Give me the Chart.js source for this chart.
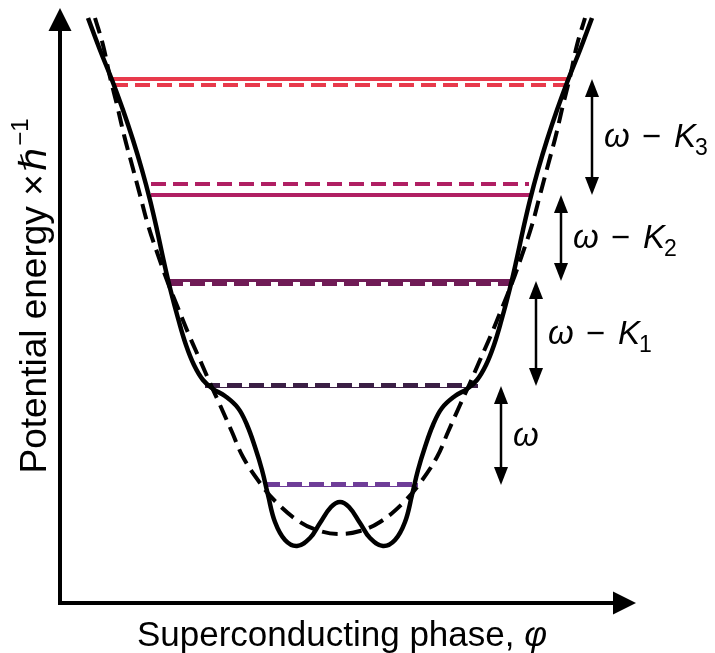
<!DOCTYPE html>
<html>
<head>
<meta charset="utf-8">
<script src="https://cdn.jsdelivr.net/npm/chart.js@4.4.1/dist/chart.umd.min.js"></script>
<style>
  html, body { margin: 0; padding: 0; background: #fff; }
  #wrap { width: 715px; height: 653px; position: relative; }
</style>
</head>
<body>
<div id="wrap"><canvas id="potentialChart"></canvas></div>
<script>
// Full potential (double well with shelves), phase vs energy
const phaseFull = [-2.52, -2.40, -2.28, -2.17, -2.07, -1.98, -1.90, -1.83, -1.765, -1.695, -1.615, -1.54, -1.46,
  -1.37, -1.27, -1.15, -1.02, -0.93, -0.85, -0.78, -0.72, -0.65, -0.55, -0.43, -0.30, -0.20, -0.09, 0,
  0.09, 0.20, 0.30, 0.43, 0.55, 0.65, 0.72, 0.78, 0.85, 0.93, 1.02, 1.15, 1.27, 1.37,
  1.46, 1.54, 1.615, 1.695, 1.765, 1.83, 1.90, 1.98, 2.07, 2.17, 2.28, 2.40, 2.52];
const energyFull = [5.85, 5.53, 5.23, 4.93, 4.63, 4.33, 4.03, 3.73, 3.43, 3.13, 2.83, 2.58, 2.38,
  2.23, 2.14, 2.07, 1.95, 1.78, 1.56, 1.33, 1.08, 0.81, 0.63, 0.57, 0.65, 0.80, 0.96, 1.01,
  0.96, 0.80, 0.65, 0.57, 0.63, 0.81, 1.08, 1.33, 1.56, 1.78, 1.95, 2.07, 2.14, 2.23,
  2.38, 2.58, 2.83, 3.13, 3.43, 3.73, 4.03, 4.33, 4.63, 4.93, 5.23, 5.53, 5.85];

// Approximate (dashed) potential
const phaseApprox = [-2.45, -2.37, -2.30, -2.23, -2.16, -2.08, -2.00, -1.92, -1.82, -1.72, -1.62, -1.51, -1.40,
  -1.30, -1.20, -1.08, -0.97, -0.80, -0.63, -0.40, -0.20, 0,
  0.20, 0.40, 0.63, 0.80, 0.97, 1.08, 1.20, 1.30, 1.40, 1.51, 1.62, 1.72, 1.82, 1.92, 2.00, 2.08, 2.16,
  2.23, 2.30, 2.37, 2.45];
const energyApprox = [5.85, 5.58, 5.26, 4.98, 4.68, 4.38, 4.08, 3.78, 3.48, 3.20, 2.95, 2.68, 2.43,
  2.20, 1.98, 1.71, 1.46, 1.20, 1.00, 0.81, 0.72, 0.69,
  0.72, 0.81, 1.00, 1.20, 1.46, 1.71, 1.98, 2.20, 2.43, 2.68, 2.95, 3.20, 3.48, 3.78, 4.08, 4.38, 4.68,
  4.98, 5.26, 5.58, 5.85];

// Energy levels: solid = full potential, dashed = approximation
const levelColors = ['#6f3d98', '#3b1f45', '#701b56', '#b01f63', '#e83a4c'];
const levelSolidE = [1.18, 2.17, 3.22, 4.08, 5.24];
const levelDashedE = [1.19, 2.18, 3.19, 4.19, 5.18];
const levelFrom = [-0.75, -1.35, -1.72, -1.89, -2.27];
const levelTo = [0.78, 1.38, 1.72, 1.92, 2.28];

// Level spacing arrows and their labels
const gapLabels = ['ω', 'ω − K1', 'ω − K2', 'ω − K3'];
const gapPhase = [1.61, 1.96, 2.21, 2.52];

const xTitle = 'Superconducting phase, ';
const yTitle = 'Potential energy ×';

const FONT = '"Liberation Sans", Arial, Helvetica, sans-serif';

function pts(xs, ys) {
  return xs.map((x, i) => ({ x: x, y: ys[i] }));
}

const datasets = [];
datasets.push({
  data: pts(phaseFull, energyFull),
  borderColor: '#000', borderWidth: 4.5,
  tension: 0.4, order: 0
});
datasets.push({
  data: pts(phaseApprox, energyApprox),
  borderColor: '#000', borderWidth: 4, borderDash: [16, 8],
  tension: 0.4, order: 1
});
levelColors.forEach((c, i) => {
  const dashedPts = [{ x: levelFrom[i], y: levelDashedE[i] }, { x: levelTo[i] - 0.03, y: levelDashedE[i] }];
  datasets.push({
    data: dashedPts, borderColor: c, borderWidth: 4, borderDash: [15, 7], order: 2
  });
  datasets.push({
    data: dashedPts, borderColor: '#fff', borderWidth: 4, order: 3
  });
  datasets.push({
    data: [{ x: levelFrom[i], y: levelSolidE[i] }, { x: levelTo[i], y: levelSolidE[i] }],
    borderColor: c, borderWidth: 4, order: 4
  });
});

function arrowHead(ctx, x, y, dir, len, half) {
  // dir: -1 pointing up, 1 pointing down, 2 pointing right
  ctx.beginPath();
  if (dir === 2) {
    ctx.moveTo(x, y);
    ctx.lineTo(x - len, y - half);
    ctx.lineTo(x - len, y + half);
  } else {
    ctx.moveTo(x, y);
    ctx.lineTo(x - half, y - dir * len);
    ctx.lineTo(x + half, y - dir * len);
  }
  ctx.closePath();
  ctx.fill();
}

const decorations = {
  id: 'decorations',
  afterDatasetsDraw(chart) {
    const ctx = chart.ctx;
    const area = chart.chartArea;
    const xs = chart.scales.x, ys = chart.scales.y;
    ctx.save();
    ctx.fillStyle = '#000';
    ctx.strokeStyle = '#000';

    // axes with arrow heads
    ctx.lineWidth = 4;
    ctx.beginPath();
    ctx.moveTo(area.left, area.top + 16);
    ctx.lineTo(area.left, area.bottom);
    ctx.lineTo(area.right - 16, area.bottom);
    ctx.stroke();
    arrowHead(ctx, area.left, area.top, -1, 23, 11.5);
    arrowHead(ctx, area.right, area.bottom, 2, 23, 11.5);

    // double arrows between consecutive solid levels
    ctx.lineWidth = 2.5;
    gapLabels.forEach((lab, i) => {
      const x = xs.getPixelForValue(gapPhase[i]);
      const yLo = ys.getPixelForValue(levelSolidE[i]);
      const yHi = ys.getPixelForValue(levelSolidE[i + 1]);
      ctx.beginPath();
      ctx.moveTo(x, yHi + 12);
      ctx.lineTo(x, yLo - 12);
      ctx.stroke();
      arrowHead(ctx, x, yHi, -1, 18, 7);
      arrowHead(ctx, x, yLo, 1, 18, 7);

      // label: italic omega / K, upright minus and subscript
      let tx = x + 12;
      const ty = (yLo + yHi) / 2 + 10;
      ctx.textBaseline = 'alphabetic';
      ctx.textAlign = 'left';
      ctx.font = 'italic 33px ' + FONT;
      ctx.fillText('ω', tx, ty);
      tx += ctx.measureText('ω').width;
      if (i > 0) {
        ctx.font = '33px ' + FONT;
        tx += 12;
        ctx.fillText('−', tx, ty);
        tx += ctx.measureText('−').width + 13;
        ctx.font = 'italic 33px ' + FONT;
        ctx.fillText('K', tx, ty);
        tx += ctx.measureText('K').width - 1;
        ctx.font = '23px ' + FONT;
        ctx.fillText(String(i), tx, ty + 8);
      }
    });

    // x axis title
    ctx.font = '35px ' + FONT;
    const w1 = ctx.measureText(xTitle).width;
    ctx.font = 'italic 35px ' + FONT;
    const w2 = ctx.measureText('φ').width;
    let sx = (area.left + area.right) / 2 - 6 - (w1 + w2) / 2;
    ctx.font = '35px ' + FONT;
    ctx.fillText(xTitle, sx, area.bottom + 43);
    ctx.font = 'italic 35px ' + FONT;
    ctx.fillText('φ', sx + w1, area.bottom + 43);

    // y axis title, rotated
    ctx.translate(46, 296);
    ctx.rotate(-Math.PI / 2);
    ctx.font = '37px ' + FONT;
    const a = ctx.measureText(yTitle).width + 3;
    ctx.font = 'italic 37px "DejaVu Sans", ' + FONT;
    const b = ctx.measureText('ℏ').width + 2;
    ctx.font = '24px ' + FONT;
    const c = ctx.measureText('−1').width;
    let px = -(a + b + c) / 2;
    ctx.font = '37px ' + FONT;
    ctx.fillText(yTitle, px, 0);
    px += a;
    ctx.font = 'italic 37px "DejaVu Sans", ' + FONT;
    ctx.fillText('ℏ', px, 0);
    px += b;
    ctx.font = '24px ' + FONT;
    ctx.fillText('−1', px, -18);
    ctx.restore();
  }
};

new Chart(document.getElementById('potentialChart'), {
  type: 'line',
  data: { datasets: datasets },
  options: {
    responsive: true,
    maintainAspectRatio: false,
    animation: false,
    parsing: false,
    layout: { padding: { left: 60, right: 79, top: 8, bottom: 50 } },
    elements: { point: { radius: 0 }, line: { borderCapStyle: 'butt' } },
    scales: {
      x: { type: 'linear', min: -2.8, max: 2.96, display: false },
      y: { type: 'linear', min: 0, max: 5.95, display: false }
    },
    plugins: { legend: { display: false }, tooltip: { enabled: false } }
  },
  plugins: [decorations]
});
</script>
</body>
</html>
